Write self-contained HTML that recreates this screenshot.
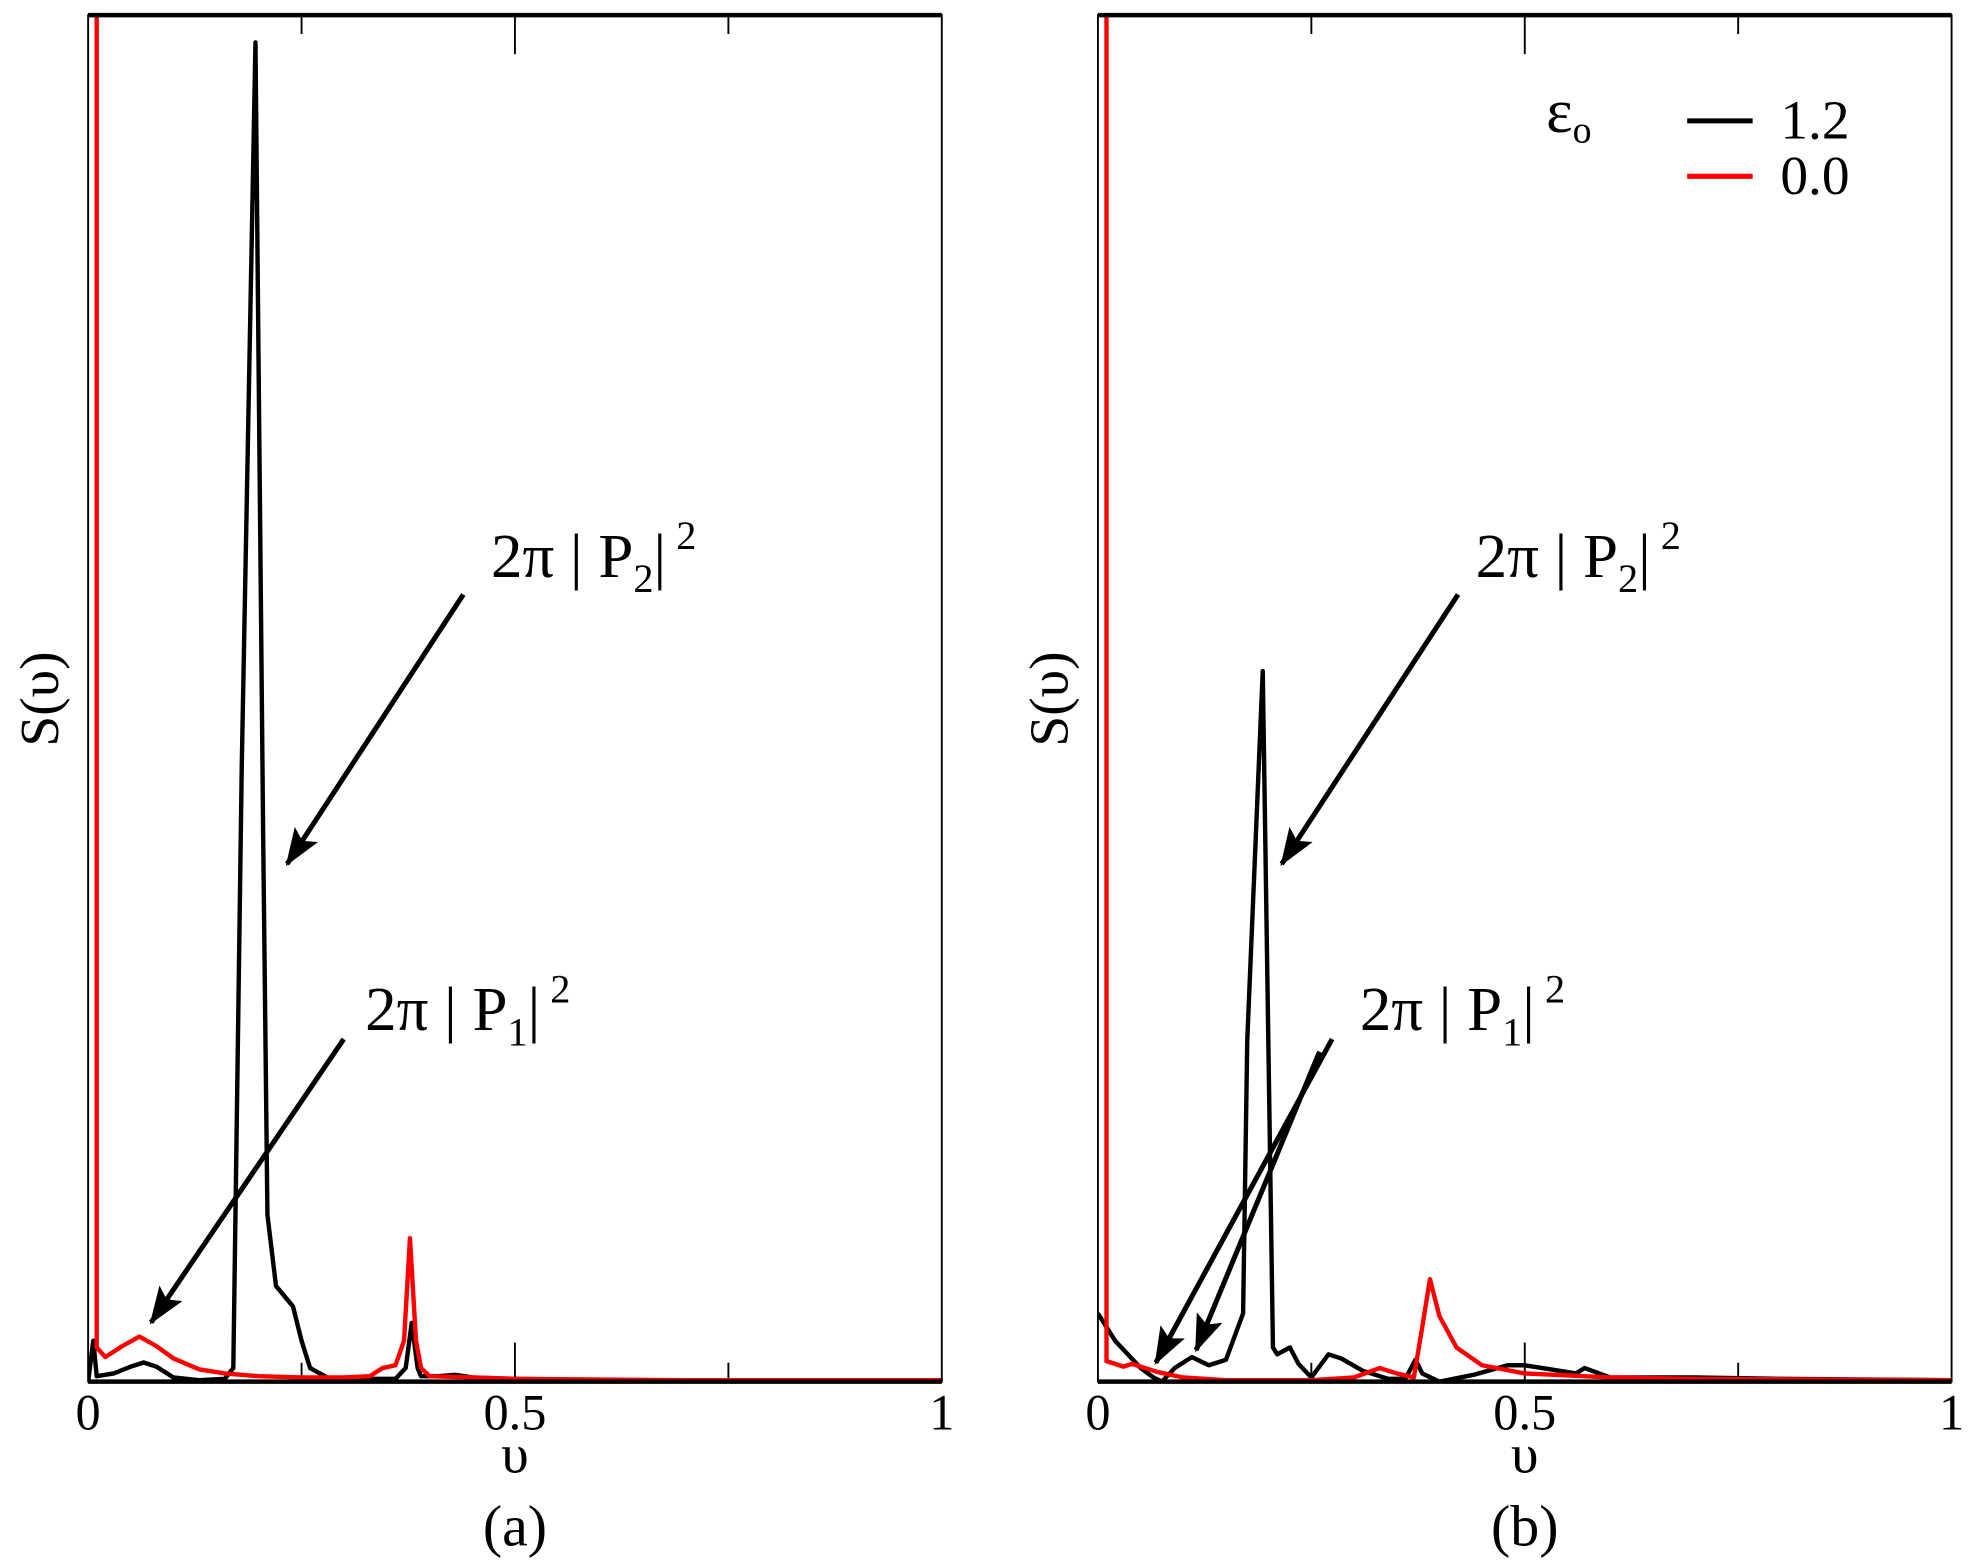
<!DOCTYPE html>
<html><head><meta charset="utf-8"><style>
html,body{margin:0;padding:0;background:#fff;}
svg{display:block;}
svg text{font-family:"Liberation Serif","DejaVu Serif",serif;fill:#000;}
</style></head><body>
<svg id="chart" width="1973" height="1563" viewBox="0 0 1567 1241" preserveAspectRatio="none" xmlns="http://www.w3.org/2000/svg" font-family="Liberation Serif, DejaVu Serif, serif">
<defs>
<marker id="ah2" markerWidth="30" markerHeight="22" refX="28" refY="11" orient="auto" markerUnits="userSpaceOnUse"><path d="M0,0 L30,11 L0,22 L6,11 z" fill="#000"/></marker></defs>
<g id="plots"></g>
</svg>
<script>
// Panel (a) data
const aBlackV = [0.0,0.006,0.01,0.03,0.05,0.065,0.08,0.1,0.13,0.16,0.17,0.18,0.196,0.205,0.21,0.22,0.24,0.25,0.26,0.28,0.3,0.34,0.36,0.372,0.379,0.386,0.39,0.41,0.43,0.45,0.5,0.6,0.8,1.0];
const aBlackS = [0.0,0.03,0.004,0.006,0.011,0.014,0.011,0.003,0.001,0.002,0.01,0.45,0.98,0.4,0.122,0.07,0.055,0.03,0.01,0.003,0.002,0.002,0.002,0.01,0.043,0.01,0.004,0.004,0.005,0.003,0.002,0.001,0.001,0.001];
const aRedV = [0.01,0.0101,0.02,0.04,0.06,0.08,0.1,0.13,0.16,0.2,0.25,0.3,0.33,0.345,0.36,0.37,0.377,0.384,0.39,0.4,0.45,0.5,0.7,1.0];
const aRedS = [5,0.025,0.018,0.026,0.033,0.026,0.017,0.009,0.006,0.004,0.003,0.003,0.004,0.01,0.012,0.03,0.105,0.03,0.01,0.004,0.003,0.002,0.001,0.001];
// Panel (b) data
const bBlackV = [0.0,0.02,0.035,0.05,0.065,0.075,0.09,0.11,0.13,0.15,0.17,0.175,0.193,0.205,0.21,0.225,0.235,0.25,0.27,0.285,0.31,0.34,0.36,0.372,0.38,0.4,0.44,0.48,0.5,0.53,0.56,0.57,0.6,0.7,0.8,1.0];
const bBlackS = [0.05,0.03,0.02,0.01,0.003,0.0,0.01,0.018,0.012,0.016,0.05,0.25,0.52,0.025,0.02,0.025,0.013,0.003,0.02,0.017,0.008,0.002,0.002,0.016,0.006,0.0,0.005,0.012,0.012,0.009,0.006,0.01,0.003,0.003,0.002,0.001];
const bRedV = [0.01,0.0101,0.03,0.04,0.055,0.07,0.1,0.15,0.25,0.3,0.33,0.35,0.37,0.38,0.389,0.4,0.42,0.45,0.5,0.6,0.7,1.0];
const bRedS = [5,0.015,0.011,0.013,0.01,0.007,0.003,0.001,0.001,0.003,0.01,0.006,0.003,0.04,0.075,0.048,0.025,0.012,0.006,0.003,0.002,0.001];
const xTicks = [0, 0.5, 1];
const xTickLabels = ["0", "0.5", "1"];

const NS = "http://www.w3.org/2000/svg";
const FONT = '"Liberation Serif", "DejaVu Serif", serif';
const root = document.getElementById('plots');
const yTop = 12, yBot = 1097, H = yBot - yTop, W = 678;
function mk(tag, attrs, parent){const e=document.createElementNS(NS,tag);for(const k in attrs)e.setAttribute(k,attrs[k]);if(tag==='text')e.style.fontFamily=FONT;(parent||root).appendChild(e);return e;}

function panel(x0, name, bv, bs, rv, rs, letter){
  const g = mk('g', {});
  
  
  const xs = v => x0 + v * W;
  const ys = s => yBot - Math.min(s, 1.05) * H;
  const clip = mk('clipPath', {id:'clip'+name}, g);
  mk('rect', {x:x0, y:yTop, width:W, height:H}, clip);
  [0.25,0.5,0.75].forEach(t=>{
    const len = t===0.5?31:15;
    mk('line',{x1:xs(t),x2:xs(t),y1:yBot,y2:yBot-len,stroke:'#000','stroke-width':1.5},g);
    mk('line',{x1:xs(t),x2:xs(t),y1:yTop,y2:yTop+len,stroke:'#000','stroke-width':1.5},g);
  });
  const series = [[bv,bs,'#000','black-series-1.2'],[rv,rs,'#f00','red-series-0.0']];
  series.forEach(([v,s,c,n])=>{
    const d = v.map((vv,i)=>(i?'L':'M')+xs(vv).toFixed(1)+','+ys(s[i]).toFixed(1)).join(' ');
    const p = mk('path',{d:d,fill:'none',stroke:c,'stroke-width':3.5,'stroke-linejoin':'round','clip-path':'url(#clip'+name+')'},g);
    
    
  });
  mk('rect',{x:x0,y:yTop,width:W,height:H,fill:'none',stroke:'#000','stroke-width':1.5},g);
  mk('line',{x1:x0,x2:x0+W,y1:yTop,y2:yTop,stroke:'#000','stroke-width':3.5},g);
  mk('line',{x1:x0,x2:x0+W,y1:yBot,y2:yBot,stroke:'#000','stroke-width':3.5},g);
  xTicks.forEach((t,i)=>{
    const tx = mk('text',{x:xs(t),y:yBot+38,'font-size':40,'text-anchor':'middle'},g);
    tx.textContent = xTickLabels[i];
    
    
  });
  const xl = mk('text',{x:xs(0.5),y:yBot+72,'font-size':44,'text-anchor':'middle'},g);
  xl.textContent = 'υ';
  
  
  const pl = mk('text',{x:xs(0.5),y:yBot+130,'font-size':46,'text-anchor':'middle'},g);
  pl.textContent = letter;
  
  
  const yl = mk('text',{x:0,y:0,'font-size':44,'text-anchor':'middle',transform:'translate('+(x0-24)+',555) rotate(-90)'},g);
  yl.textContent = 'S(υ)';
  
  
  return g;
}
const ga = panel(70,'a',aBlackV,aBlackS,aRedV,aRedS,'(a)');
const gb = panel(872,'b',bBlackV,bBlackS,bRedV,bRedS,'(b)');

function annot(g, x, y, sub){
  const t = mk('text',{x:x,y:y,'font-size':50},g);
  
  
  t.appendChild(document.createTextNode('2π | P'));
  const s1 = mk('tspan',{'font-size':32,dy:12},t); s1.textContent = sub;
  const s2 = mk('tspan',{dy:-12},t); s2.textContent = '|';
  const s3 = mk('tspan',{'font-size':32,dy:-22},t); s3.textContent = ' 2';
}
function arrow(g,x1,y1,x2,y2){
  const l = mk('line',{x1:x1,y1:y1,x2:x2,y2:y2,stroke:'#000','stroke-width':4,'marker-end':'url(#ah2)'},g);
  
  
}
annot(ga,390,458,'2'); arrow(ga,368,472,228,686);
annot(ga,290,818,'1'); arrow(ga,273,825,120,1050);
annot(gb,1172,458,'2'); arrow(gb,1158,472,1018,686);
annot(gb,1080,818,'1'); arrow(gb,1058,825,918,1082); arrow(gb,1048,835,950,1072);

const lg = mk('g',{});


const le = mk('text',{x:1228,y:105,'font-size':50},lg);


le.appendChild(document.createTextNode('ε'));
const lsub = mk('tspan',{'font-size':30,dy:8},le); lsub.textContent = 'o';
[['#000','1.2',96],['#f00','0.0',140]].forEach(([c,l,y])=>{
  const e = mk('line',{x1:1340,x2:1392,y1:y,y2:y,stroke:c,'stroke-width':4},lg);
  
  
  const t = mk('text',{x:1414,y:y+14,'font-size':44},lg);
  t.textContent = l;
  
  
});
</script>
</body></html>
